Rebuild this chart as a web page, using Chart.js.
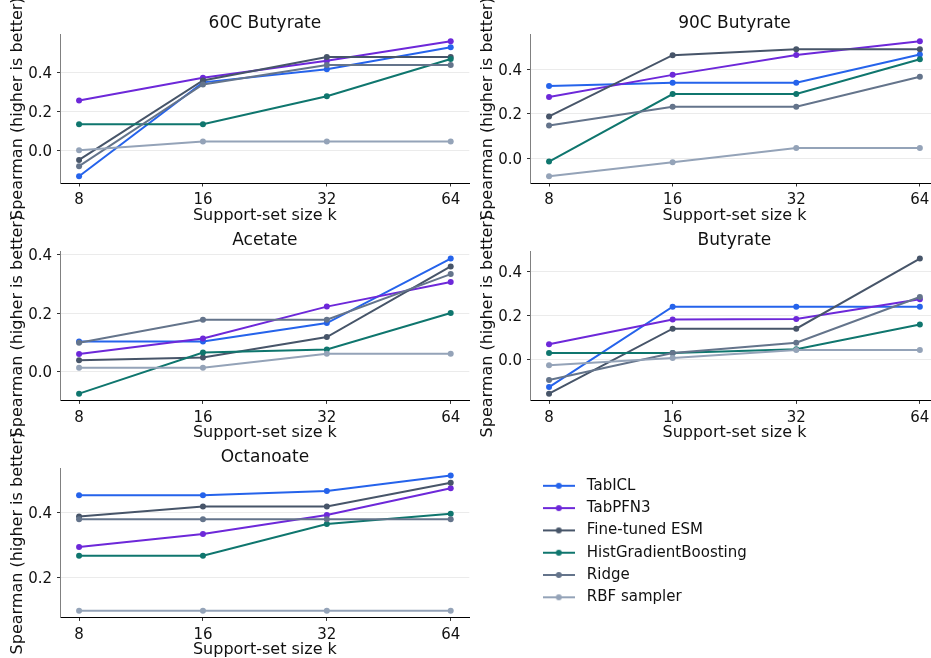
<!DOCTYPE html>
<html><head><meta charset="utf-8">
<script src="https://cdn.jsdelivr.net/npm/chart.js@4.4.1/dist/chart.umd.min.js"></script>
<style>
html,body{margin:0;padding:0;background:#fff;width:931px;height:658px;overflow:hidden;position:relative}
canvas{position:absolute}
</style></head><body>
<canvas id="c0" width="945" height="658" style="left:0;top:0"></canvas>
<canvas id="c1" width="945" height="658" style="left:0;top:0"></canvas>
<canvas id="c2" width="945" height="658" style="left:0;top:0"></canvas>
<canvas id="c3" width="945" height="658" style="left:0;top:0"></canvas>
<canvas id="c4" width="945" height="658" style="left:0;top:0"></canvas>
<canvas id="leg" width="450" height="160" style="left:531px;top:471px"></canvas>
<script>
// ---- data ----
const kLabels = ['8', '16', '32', '64'];
const seriesNames = ['TabICL', 'TabPFN3', 'Fine-tuned ESM', 'HistGradientBoosting', 'Ridge', 'RBF sampler'];
const seriesColors = ['#2563eb', '#6d28d9', '#475569', '#0f766e', '#64748b', '#94a3b8'];
const panelTitles = ['60C Butyrate', '90C Butyrate', 'Acetate', 'Butyrate', 'Octanoate'];
const yTitle = 'Spearman (higher is better)';
const xTitle = 'Support-set size k';

// rows: TabICL, TabPFN3, Fine-tuned ESM, HistGradientBoosting, Ridge, RBF sampler; columns: k = 8, 16, 32, 64
const butyrate60C = [
  [-0.134, 0.349, 0.417, 0.530],
  [0.256, 0.373, 0.460, 0.561],
  [-0.050, 0.359, 0.479, 0.479],
  [0.134, 0.134, 0.278, 0.469],
  [-0.082, 0.338, 0.438, 0.438],
  [0.000, 0.045, 0.045, 0.045]
];
const butyrate90C = [
  [0.325, 0.340, 0.340, 0.466],
  [0.276, 0.375, 0.464, 0.526],
  [0.189, 0.463, 0.490, 0.490],
  [-0.013, 0.289, 0.289, 0.445],
  [0.148, 0.232, 0.232, 0.367],
  [-0.079, -0.016, 0.048, 0.048]
];
const acetate = [
  [0.104, 0.104, 0.167, 0.387],
  [0.061, 0.114, 0.223, 0.307],
  [0.040, 0.049, 0.119, 0.360],
  [-0.074, 0.066, 0.077, 0.201],
  [0.100, 0.178, 0.178, 0.334],
  [0.014, 0.014, 0.062, 0.062]
];
const butyrate = [
  [-0.127, 0.241, 0.241, 0.241],
  [0.069, 0.182, 0.185, 0.275],
  [-0.157, 0.140, 0.140, 0.461],
  [0.029, 0.029, 0.046, 0.159],
  [-0.095, 0.029, 0.076, 0.285],
  [-0.027, 0.006, 0.043, 0.043]
];
const octanoate = [
  [0.454, 0.454, 0.467, 0.515],
  [0.294, 0.334, 0.393, 0.476],
  [0.388, 0.419, 0.419, 0.493],
  [0.267, 0.267, 0.365, 0.397],
  [0.380, 0.380, 0.380, 0.380],
  [0.097, 0.097, 0.097, 0.097]
];
const panels = [butyrate60C, butyrate90C, acetate, butyrate, octanoate];

// ---- layout / style ----
const TEXT = '#111111';
const W = 945, H = 658;
const colLeft = [60.5, 530.5], colRight = [469.3, 938.4];
const rowTop = [34.4, 251.8, 468.8], rowBottom = [183.0, 400.4, 617.4];
const YW = 60, XH = 42;
const TITLE_SIZE = 17, TITLE_PAD = 1;
const TITLE_H = TITLE_SIZE * 1.2 + TITLE_PAD;

Chart.defaults.font.family = "'DejaVu Sans', sans-serif";
Chart.defaults.color = TEXT;

const yTitlePlugin = {
  id: 'yTitleRot',
  afterDraw(chart) {
    const ctx = chart.ctx, a = chart.chartArea;
    ctx.save();
    ctx.font = "16px 'DejaVu Sans'";
    ctx.fillStyle = TEXT;
    ctx.textAlign = 'center';
    ctx.textBaseline = 'alphabetic';
    ctx.translate(a.left - 38.5, (a.top + a.bottom) / 2);
    ctx.rotate(-Math.PI / 2);
    ctx.fillText(yTitle, 0, 0);
    ctx.restore();
  }
};

panels.forEach((series, p) => {
  const col = p % 2, row = Math.floor(p / 2);
  const all = series.flat();
  const lo = Math.min(...all), hi = Math.max(...all), r = hi - lo;
  const datasets = series.map((vals, si) => ({
    label: seriesNames[si],
    data: vals.map((v, i) => ({x: i, y: v})),
    borderColor: seriesColors[si],
    backgroundColor: seriesColors[si],
    pointBackgroundColor: seriesColors[si],
    borderWidth: 2,
    pointRadius: 3,
    pointBorderWidth: 0,
    tension: 0,
    fill: false,
    order: seriesNames.length - 1 - si
  }));
  new Chart(document.getElementById('c' + p), {
    type: 'line',
    data: {datasets},
    plugins: [yTitlePlugin],
    options: {
      responsive: false,
      animation: false,
      events: [],
      layout: {padding: {
        left: colLeft[col] - YW,
        right: W - colRight[col],
        top: rowTop[row] - TITLE_H,
        bottom: H - rowBottom[row] - XH
      }},
      plugins: {
        legend: {display: false},
        tooltip: {enabled: false},
        title: {display: true, fullSize: false, text: panelTitles[p], color: TEXT,
                font: {size: TITLE_SIZE, weight: 'normal', lineHeight: 1.2},
                padding: {top: 0, bottom: TITLE_PAD}}
      },
      scales: {
        x: {
          type: 'linear', min: -0.15, max: 3.15,
          afterFit: a => { a.height = XH; },
          afterBuildTicks: a => { a.ticks = kLabels.map((_, i) => ({value: i})); },
          border: {color: '#000', width: 1},
          grid: {drawOnChartArea: false, drawTicks: true, tickLength: 3.5, tickColor: '#333', tickWidth: 1},
          ticks: {padding: 5, color: TEXT, font: {size: 15}, maxRotation: 0, autoSkip: false,
                  callback: (v) => kLabels[Math.round(v)]},
          title: {display: true, text: xTitle, color: TEXT, font: {size: 16, lineHeight: 1.2}, padding: 0}
        },
        y: {
          type: 'linear', min: lo - 0.05 * r, max: hi + 0.05 * r,
          afterFit: a => { a.width = YW; },
          border: {color: '#808080', width: 1},
          grid: {color: '#ebebeb', lineWidth: 1, drawTicks: true, tickLength: 3.5, tickColor: '#333', tickWidth: 1},
          ticks: {stepSize: 0.2, includeBounds: false, padding: 5, labelOffset: 1.5, color: TEXT, font: {size: 15},
                  callback: v => v.toFixed(1)}
        }
      }
    }
  });
});

// ---- legend ----
const legendImgs = seriesColors.map(c => {
  const cv = document.createElement('canvas');
  cv.width = 32; cv.height = 10;
  const g = cv.getContext('2d');
  g.strokeStyle = c; g.lineWidth = 2;
  g.beginPath(); g.moveTo(0, 5); g.lineTo(32, 5); g.stroke();
  g.fillStyle = c;
  g.beginPath(); g.arc(16, 5, 3, 0, 2 * Math.PI); g.fill();
  return cv;
});
new Chart(document.getElementById('leg'), {
  type: 'line',
  data: {datasets: seriesNames.map((n, i) => ({label: n, data: [], borderColor: seriesColors[i], backgroundColor: seriesColors[i]}))},
  options: {
    responsive: false, animation: false, events: [],
    layout: {padding: 0},
    scales: {x: {display: false}, y: {display: false}},
    plugins: {
      tooltip: {enabled: false},
      title: {display: false},
      legend: {
        display: true, position: 'left', align: 'start',
        labels: {
          usePointStyle: true, pointStyleWidth: 41, boxHeight: 15, padding: 7.3,
          color: TEXT, font: {size: 15},
          generateLabels: () => seriesNames.map((n, i) => ({
            text: n, pointStyle: legendImgs[i], fillStyle: seriesColors[i], strokeStyle: seriesColors[i],
            lineWidth: 0, hidden: false, datasetIndex: i, fontColor: TEXT
          }))
        }
      }
    }
  }
});
</script>
</body></html>
